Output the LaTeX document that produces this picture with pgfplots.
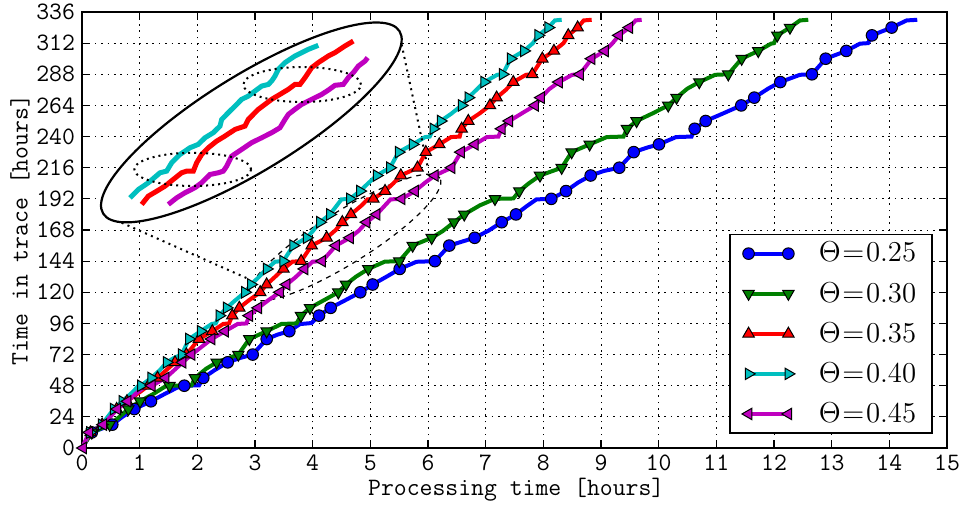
\documentclass[border=0pt]{standalone}
\usepackage{pgfplots}
\pgfplotsset{compat=1.18}
\definecolor{mplblue}{rgb}{0,0,1}
\definecolor{mplgreen}{rgb}{0,0.5,0}
\definecolor{mplred}{rgb}{1,0,0}
\definecolor{mplcyan}{rgb}{0,0.75,0.75}
\definecolor{mplmag}{rgb}{0.75,0,0.75}
\pgfplotsset{
  bl/.style={color=mplblue, line width=2pt, mark=*, mark size=2.9pt, mark options={fill=mplblue, draw=black, line width=0.5pt, solid}},
  gr/.style={color=mplgreen, line width=2pt, mark=triangle*, mark size=3.3pt, mark options={fill=mplgreen, draw=black, line width=0.5pt, solid, rotate=180}},
  rd/.style={color=mplred, line width=2pt, mark=triangle*, mark size=3.3pt, mark options={fill=mplred, draw=black, line width=0.5pt, solid}},
  cy/.style={color=mplcyan, line width=2pt, mark=triangle*, mark size=3.3pt, mark options={fill=mplcyan, draw=black, line width=0.5pt, solid, rotate=-90}},
  mg/.style={color=mplmag, line width=2pt, mark=triangle*, mark size=3.3pt, mark options={fill=mplmag, draw=black, line width=0.5pt, solid, rotate=90}},
}
\begin{document}
\begin{tikzpicture}
\begin{axis}[
  at={(0,0)}, anchor=south west,
  scale only axis, width=432.5pt, height=218pt,
  xmin=0, xmax=15, ymin=0, ymax=336,
  xtick={0,1,...,15}, ytick={0,24,...,336},
  grid=major,
  major grid style={black, line width=0.5pt, dash pattern=on 0.8pt off 2.4pt},
  tick align=inside, major tick length=4pt,
  every tick/.style={black, line width=0.6pt},
  axis line style={black, line width=1pt},
  tick label style={font=\ttfamily\fontsize{12.5}{14}\selectfont},
  /pgf/number format/assume math mode=true,
  label style={font=\ttfamily\fontsize{12.5}{14}\selectfont},
  xlabel={Processing time [hours]},
  ylabel={Time in trace [hours]},
  xlabel style={at={(axis description cs:0.502,-0.0963)}, anchor=center},
  ylabel style={at={(axis description cs:-0.0717,0.5)}, anchor=center},
  legend image code/.code={\draw[mark repeat=2,mark phase=1,#1] plot coordinates {(0cm,0cm) (0.35cm,0cm) (0.7cm,0cm)};},
  legend style={at={(axis description cs:0.9838,0.0328)}, anchor=south east, draw=black, line width=0.8pt, fill=white,
    font=\fontsize{14}{16}\selectfont, inner xsep=6pt, inner ysep=1.8pt, row sep=4.7pt, nodes={inner sep=2pt},
    /tikz/every odd column/.append style={column sep=10pt}},
  legend cell align=left,
]
% dashed source region
\draw[black, line width=0.6pt, dash pattern=on 2.5pt off 2.5pt, rotate around={32:(axis cs:4.56,162.2)}] (axis cs:4.56,162.2) ellipse [x radius=56pt, y radius=13pt];

% Theta = 0.25
\addplot[bl, no markers, forget plot] coordinates {(0,0) (0.17,12) (0.525,18) (0.7,24) (0.907,30) (1.196,36) (1.45,42) (1.65,46.5) (1.774,48) (2.03,48.3) (2.103,54) (2.3,60) (2.526,66) (2.75,69.5) (2.96,72) (3.203,84) (3.4,87.5) (3.595,90) (3.78,95.5) (3.98,96.3) (4.11,102) (4.312,108) (4.55,113.5) (4.826,120) (5.041,126) (5.3,132.5) (5.509,138) (5.8,143.5) (6.12,144) (6.369,156) (6.55,158.5) (6.809,162) (7.05,167.5) (7.278,174) (7.526,180) (7.7,186) (7.88,191.6) (8.138,192) (8.393,198) (8.6,204.5) (8.821,210) (9.05,213.5) (9.317,216) (9.567,228) (9.8,231.5) (10.005,234) (10.3,239.6) (10.57,240) (10.624,246) (10.815,252) (11.1,257.5) (11.432,264) (11.658,270) (11.9,277) (12.109,282) (12.45,287.6) (12.658,288) (12.896,300) (13.253,306) (13.49,311.6) (13.63,312) (13.699,318) (14.04,324) (14.3,329.5) (14.484,330)};
\addplot[bl, only marks, forget plot] coordinates {(0.17,12) (0.525,18) (0.907,30) (1.196,36) (1.774,48) (2.103,54) (2.526,66) (2.96,72) (3.203,84) (3.595,90) (4.11,102) (4.312,108) (4.826,120) (5.041,126) (5.509,138) (6.12,144) (6.369,156) (6.809,162) (7.278,174) (7.526,180) (8.138,192) (8.393,198) (8.821,210) (9.317,216) (9.567,228) (10.005,234) (10.624,246) (10.815,252) (11.432,264) (11.658,270) (12.109,282) (12.658,288) (12.896,300) (13.253,306) (13.699,318) (14.04,324)};

% Theta = 0.30
\addplot[gr, no markers, forget plot] coordinates {(0,0) (0.17,12) (0.48,18) (0.65,24) (0.803,30) (1.006,36) (1.25,42) (1.45,47.6) (1.517,48) (1.9,48.3) (1.959,54) (2.15,61) (2.335,66) (2.711,72) (2.902,84) (3.202,90) (3.46,95.6) (3.72,96) (3.797,102) (3.954,108) (4.2,114) (4.445,120) (4.578,126) (4.75,132) (4.965,138) (5.25,143.6) (5.502,144) (5.734,156) (6.064,162) (6.25,167) (6.451,174) (6.629,180) (6.9,187) (7.161,192) (7.48,192.3) (7.583,198) (7.75,204) (7.942,210) (8.318,216) (8.491,228) (8.803,234) (9.1,239.6) (9.39,240) (9.451,246) (9.617,252) (9.9,258) (10.166,264) (10.31,270) (10.5,277) (10.704,282) (10.98,287.6) (11.207,288) (11.439,300) (11.727,306) (11.95,311.6) (12.0,312) (12.057,318) (12.277,324) (12.45,329.5) (12.594,330)};
\addplot[gr, only marks, forget plot] coordinates {(0.17,12) (0.48,18) (0.803,30) (1.006,36) (1.517,48) (1.959,54) (2.335,66) (2.711,72) (2.902,84) (3.202,90) (3.797,102) (3.954,108) (4.445,120) (4.578,126) (4.965,138) (5.502,144) (5.734,156) (6.064,162) (6.451,174) (6.629,180) (7.161,192) (7.583,198) (7.942,210) (8.318,216) (8.491,228) (8.803,234) (9.451,246) (9.617,252) (10.166,264) (10.31,270) (10.704,282) (11.207,288) (11.439,300) (11.727,306) (12.057,318) (12.277,324)};

% Theta = 0.35
\addplot[rd, no markers, forget plot] coordinates {(0,0) (0.15,12) (0.35,18) (0.6,30) (0.78,36) (1.0,43) (1.15,48) (1.25,48.3) (1.31,54) (1.613,66) (1.81,72) (2.029,84) (2.26,90) (2.45,95.6) (2.55,96) (2.606,102) (2.728,108) (2.9,114) (3.09,120) (3.202,126) (3.35,132) (3.494,138) (3.65,143.6) (3.80,144) (3.983,156) (4.243,162) (4.4,168) (4.514,174) (4.664,180) (4.85,187) (4.95,191.6) (5.052,192) (5.255,198) (5.4,204) (5.529,210) (5.818,216) (5.962,228) (6.196,234) (6.4,239.6) (6.55,240) (6.584,246) (6.699,252) (6.9,258) (7.075,264) (7.19,270) (7.35,276) (7.479,282) (7.7,287.6) (7.808,288) (7.982,300) (8.184,306) (8.35,312) (8.432,318) (8.595,324) (8.7,329.5) (8.838,330)};
\addplot[rd, only marks, forget plot] coordinates {(0.15,12) (0.35,18) (0.6,30) (0.78,36) (1.15,48) (1.31,54) (1.613,66) (1.81,72) (2.029,84) (2.26,90) (2.606,102) (2.728,108) (3.09,120) (3.202,126) (3.494,138) (3.80,144) (3.983,156) (4.243,162) (4.514,174) (4.664,180) (5.052,192) (5.255,198) (5.529,210) (5.818,216) (5.962,228) (6.196,234) (6.584,246) (6.699,252) (7.075,264) (7.19,270) (7.479,282) (7.808,288) (7.982,300) (8.184,306) (8.432,318) (8.595,324)};

% Theta = 0.40
\addplot[cy, no markers, forget plot] coordinates {(0,0) (0.139,12) (0.342,18) (0.55,30) (0.7,36) (0.9,44) (0.97,47.6) (1.02,48) (1.2,54) (1.35,60) (1.468,66) (1.6,69.5) (1.729,72) (1.855,84) (2.058,90) (2.25,95.6) (2.32,96) (2.381,102) (2.509,108) (2.65,113.5) (2.826,120) (2.93,126) (3.05,131) (3.203,138) (3.35,143.6) (3.49,144) (3.664,156) (3.896,162) (4.0,167) (4.127,174) (4.3,180) (4.5,191.6) (4.647,192) (4.821,198) (4.95,203.5) (5.11,210) (5.341,216) (5.49,228) (5.734,234) (5.95,239.6) (6.03,240) (6.092,246) (6.22,252) (6.4,257.5) (6.584,264) (6.699,270) (6.85,276.5) (6.976,282) (7.2,287.6) (7.295,288) (7.433,300) (7.664,306) (7.82,312) (7.912,318) (8.086,324) (8.2,329.5) (8.318,330)};
\addplot[cy, only marks, forget plot] coordinates {(0.139,12) (0.342,18) (0.55,30) (0.7,36) (1.02,48) (1.2,54) (1.468,66) (1.729,72) (1.855,84) (2.058,90) (2.381,102) (2.509,108) (2.826,120) (2.93,126) (3.203,138) (3.49,144) (3.664,156) (3.896,162) (4.127,174) (4.3,180) (4.647,192) (4.821,198) (5.11,210) (5.341,216) (5.49,228) (5.734,234) (6.092,246) (6.22,252) (6.584,264) (6.699,270) (6.976,282) (7.295,288) (7.433,300) (7.664,306) (7.912,318) (8.086,324)};

% Theta = 0.45
\addplot[mg, no markers, forget plot] coordinates {(0,0) (0.127,12) (0.369,18) (0.612,30) (0.792,36) (0.95,42.5) (1.1,47.6) (1.209,48) (1.451,54) (1.6,60) (1.746,66) (1.902,72) (2.249,84) (2.48,90) (2.7,95.6) (2.85,96) (2.902,102) (3.057,108) (3.25,114.5) (3.433,120) (3.549,126) (3.7,131.5) (3.858,138) (4.0,143.6) (4.165,144) (4.404,156) (4.647,162) (4.8,167.5) (4.936,174) (5.11,180) (5.35,191.6) (5.543,192) (5.774,198) (5.95,204.5) (6.12,210) (6.41,216) (6.572,228) (6.814,234) (7.02,239.6) (7.22,240) (7.278,246) (7.41,252) (7.65,258.5) (7.857,264) (7.959,270) (8.1,276.5) (8.271,282) (8.5,287.6) (8.635,288) (8.838,300) (9.069,306) (9.2,312) (9.312,318) (9.491,324) (9.6,329.5) (9.705,330)};
\addplot[mg, only marks, forget plot] coordinates {(0.02,0) (0.127,12) (0.369,18) (0.612,30) (0.792,36) (1.209,48) (1.451,54) (1.746,66) (1.902,72) (2.249,84) (2.48,90) (2.902,102) (3.057,108) (3.433,120) (3.549,126) (3.858,138) (4.165,144) (4.404,156) (4.647,162) (4.936,174) (5.11,180) (5.543,192) (5.774,198) (6.12,210) (6.41,216) (6.572,228) (6.814,234) (7.278,246) (7.41,252) (7.857,264) (7.959,270) (8.271,282) (8.635,288) (8.838,300) (9.069,306) (9.312,318) (9.491,324)};

% connectors
\draw[black, line width=1pt, dash pattern=on 1pt off 2.2pt] (axis cs:0.688,173.6) -- (axis cs:2.913,129.8);
\draw[black, line width=1pt, dash pattern=on 1pt off 2.2pt] (axis cs:5.543,311) -- (axis cs:5.99,217.5);

% inset ellipse
\path[fill=white, draw=black, line width=1.1pt, rotate around={31.6:(axis cs:2.937,250.9)}] (axis cs:2.937,250.9) ellipse [x radius=87pt, y radius=24pt];

% inset (magnified) curves
\addplot[mplcyan, line width=2.5pt, forget plot] coordinates {(0.832,192.8) (0.977,199.2) (1.150,204.4) (1.353,212.1) (1.468,213.4) (1.555,219.8) (1.699,226.2) (1.873,231.4) (2.017,234.0) (2.133,239.1) (2.277,243.0) (2.393,248.1) (2.422,253.2) (2.537,258.4) (2.653,263.5) (2.769,268.7) (2.884,271.2) (3.000,275.1) (3.116,278.9) (3.231,280.2) (3.289,282.8) (3.346,286.6) (3.404,291.8) (3.520,297.0) (3.693,302.1) (3.924,307.2) (4.098,310.3)};
\addplot[mplred, line width=2.5pt, forget plot] coordinates {(1.035,187.7) (1.150,194.1) (1.295,197.9) (1.439,201.8) (1.584,207.0) (1.728,212.1) (1.815,213.4) (1.931,213.4) (1.988,219.8) (2.075,226.2) (2.191,231.4) (2.335,236.5) (2.480,240.4) (2.653,245.5) (2.826,248.1) (2.884,253.2) (2.942,255.8) (3.058,261.0) (3.173,264.8) (3.289,268.7) (3.433,272.5) (3.578,276.4) (3.693,280.2) (3.780,280.2) (3.867,285.4) (3.983,293.1) (4.098,297.0) (4.271,302.1) (4.387,304.7) (4.560,309.8) (4.705,313.6)};
\addplot[mplmag, line width=2.5pt, forget plot] coordinates {(1.497,187.7) (1.642,192.8) (1.786,196.7) (1.959,200.6) (2.075,204.4) (2.220,210.8) (2.364,212.1) (2.451,213.4) (2.509,217.2) (2.595,224.9) (2.769,230.1) (2.942,235.3) (3.116,239.1) (3.289,243.0) (3.433,246.8) (3.520,253.2) (3.578,257.1) (3.693,261.0) (3.809,264.8) (3.983,268.7) (4.156,272.5) (4.271,275.8) (4.387,279.5) (4.531,280.2) (4.618,285.4) (4.705,289.3) (4.792,294.3) (4.908,298.2) (4.954,300.8)};

% dotted highlights in inset
\draw[black, line width=1pt, dash pattern=on 1pt off 2pt] (axis cs:1.920,214.7) ellipse [x radius=29.2pt, y radius=8.3pt];
\draw[black, line width=1pt, dash pattern=on 1pt off 2pt] (axis cs:3.818,280.1) ellipse [x radius=29.4pt, y radius=8.75pt];

% legend
\addlegendimage{bl}
\addlegendentry{$\Theta\mkern1mu{=}\mkern1mu0.25$}
\addlegendimage{gr}
\addlegendentry{$\Theta\mkern1mu{=}\mkern1mu0.30$}
\addlegendimage{rd}
\addlegendentry{$\Theta\mkern1mu{=}\mkern1mu0.35$}
\addlegendimage{cy}
\addlegendentry{$\Theta\mkern1mu{=}\mkern1mu0.40$}
\addlegendimage{mg}
\addlegendentry{$\Theta\mkern1mu{=}\mkern1mu0.45$}
\end{axis}
\pgfresetboundingbox
\path[use as bounding box] (-41pt,-28pt) rectangle (440.5pt,224pt);
\end{tikzpicture}
\end{document}
